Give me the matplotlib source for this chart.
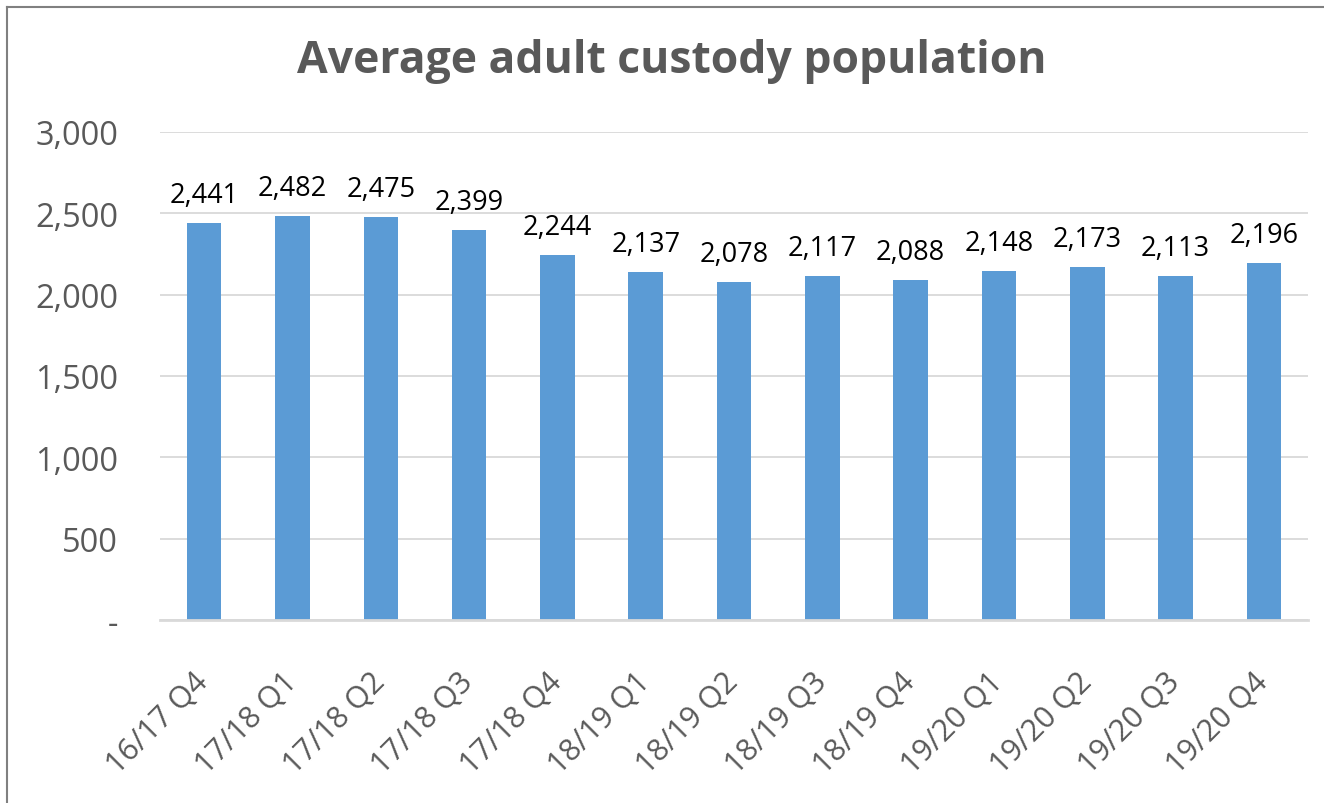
import matplotlib.pyplot as plt
from matplotlib.lines import Line2D

quarters = ['16/17 Q4', '17/18 Q1', '17/18 Q2', '17/18 Q3', '17/18 Q4',
            '18/19 Q1', '18/19 Q2', '18/19 Q3', '18/19 Q4',
            '19/20 Q1', '19/20 Q2', '19/20 Q3', '19/20 Q4']
population = [2441, 2482, 2475, 2399, 2244, 2137, 2078, 2117, 2088, 2148, 2173, 2113, 2196]
y_ticks = [0, 500, 1000, 1500, 2000, 2500, 3000]

plt.rcParams['font.family'] = ['Open Sans', 'DejaVu Sans']
grey = '#595959'

fig = plt.figure(figsize=(13.24, 8.04), dpi=100)
ax = fig.add_axes([0.1208, 0.2276, 0.8672, 0.607])

x = range(len(quarters))
bars = ax.bar(x, population, width=0.39, color='#5B9BD5', zorder=3)

for xi, v in zip(x, population):
    ax.annotate(f'{v:,}', (xi, v), xytext=(0, 10), textcoords='offset points',
                ha='center', va='bottom', fontsize=19.5, color='black')

ax.set_xlim(-0.5, len(quarters) - 0.5)
ax.set_ylim(0, 3000)
ax.set_yticks(y_ticks)
ax.set_yticklabels(['-' if t == 0 else f'{t:,}' for t in y_ticks])
ax.grid(axis='y', color='#D9D9D9', linewidth=1.3, zorder=0)
for s in ['top', 'right', 'left']:
    ax.spines[s].set_visible(False)
ax.spines['bottom'].set_color('#D9D9D9')
ax.spines['bottom'].set_linewidth(2)
ax.spines['bottom'].set_zorder(4)

ax.tick_params(axis='y', length=0, pad=30, labelsize=23.5, labelcolor=grey)
ax.tick_params(axis='x', length=0, pad=41, labelsize=22, labelcolor=grey)
ax.set_xticks(list(x))
ax.set_xticklabels(quarters, rotation=45, ha='right', va='center', rotation_mode='anchor')

fig.text(0.507, 0.923, 'Average adult custody population', ha='center', va='center',
         fontsize=32, fontweight='bold', color=grey)

# chart frame (top and left edge visible in the screenshot)
fig.add_artist(Line2D([7 / 1324, 1], [1 - 8 / 804, 1 - 8 / 804], color='#808080', linewidth=1.5))
fig.add_artist(Line2D([7 / 1324, 7 / 1324], [0, 1 - 8 / 804], color='#808080', linewidth=1.5))

fig.savefig('out.png', dpi=100)
